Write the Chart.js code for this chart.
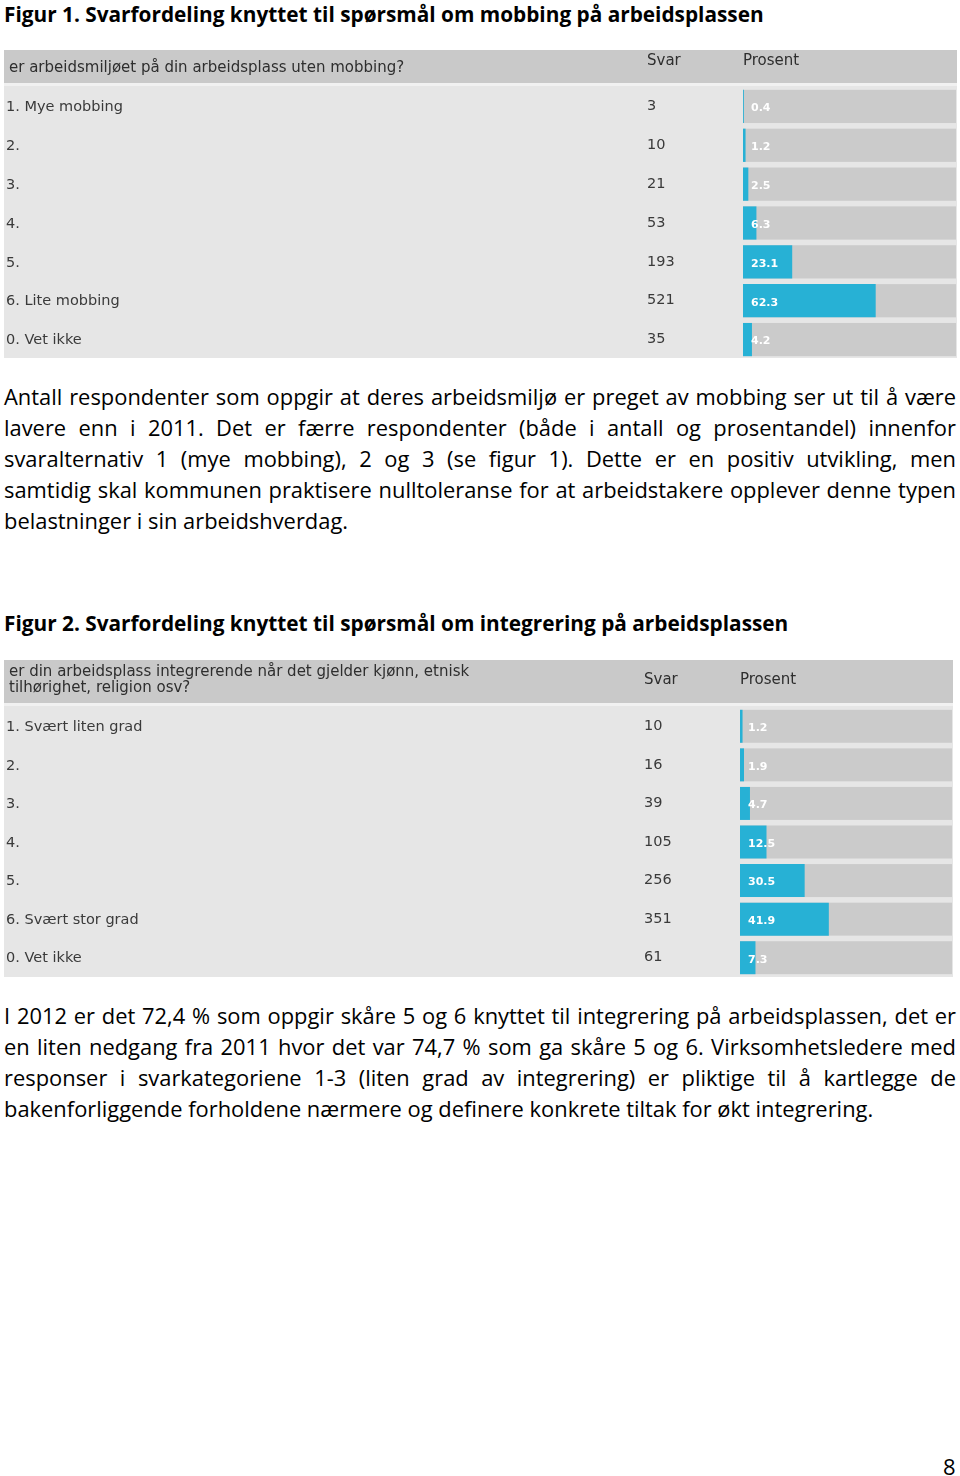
<!DOCTYPE html>
<html>
<head>
<meta charset="utf-8">
<script src="https://cdn.jsdelivr.net/npm/chart.js@4.4.1/dist/chart.umd.min.js"></script>
<style>
  html, body { margin: 0; padding: 0; background: #fff; }
  body { width: 960px; height: 1476px; position: relative; overflow: hidden; font-family: "Open Sans", Lato, sans-serif; color: #000; }
  .title { position: absolute; left: 4px; font-weight: bold; font-size: 20.8px; line-height: 30px; white-space: nowrap; }
  .para { position: absolute; left: 4px; width: 952px; font-size: 21.9px; line-height: 30.9px; }
  .para .l { display: block; text-align: justify; text-align-last: justify; }
  .para .last { display: block; text-align: left; }
  .fig { position: absolute; }
  .page { position: absolute; left: 943px; top: 1452px; font-size: 22px; line-height: 28px; }
</style>
</head>
<body>

<div class="title" style="top:-1px">Figur 1. Svarfordeling knyttet til spørsmål om mobbing på arbeidsplassen</div>
<div class="fig" style="left:4px; top:50px; width:953px; height:310px;"><canvas id="fig1"></canvas></div>

<div class="para" style="top:382px">
  <span class="l">Antall respondenter som oppgir at deres arbeidsmiljø er preget av mobbing ser ut til å være</span>
  <span class="l">lavere enn i 2011. Det er færre respondenter (både i antall og prosentandel) innenfor</span>
  <span class="l">svaralternativ 1 (mye mobbing), 2 og 3 (se figur 1). Dette er en positiv utvikling, men</span>
  <span class="l">samtidig skal kommunen praktisere nulltoleranse for at arbeidstakere opplever denne typen</span>
  <span class="last">belastninger i sin arbeidshverdag.</span>
</div>

<div class="title" style="top:608px">Figur 2. Svarfordeling knyttet til spørsmål om integrering på arbeidsplassen</div>
<div class="fig" style="left:4px; top:660px; width:949px; height:318px;"><canvas id="fig2"></canvas></div>

<div class="para" style="top:1001px">
  <span class="l">I 2012 er det 72,4 % som oppgir skåre 5 og 6 knyttet til integrering på arbeidsplassen, det er</span>
  <span class="l">en liten nedgang fra 2011 hvor det var 74,7 % som ga skåre 5 og 6. Virksomhetsledere med</span>
  <span class="l">responser i svarkategoriene 1-3 (liten grad av integrering) er pliktige til å kartlegge de</span>
  <span class="last">bakenforliggende forholdene nærmere og definere konkrete tiltak for økt integrering.</span>
</div>

<div class="page">8</div>

<script>
// Figur 1 - mobbing
const question1 = ['er arbeidsmiljøet på din arbeidsplass uten mobbing?'];
const labels1 = ['1. Mye mobbing', '2.', '3.', '4.', '5.', '6. Lite mobbing', '0. Vet ikke'];
const svar1 = [3, 10, 21, 53, 193, 521, 35];
const prosent1 = [0.4, 1.2, 2.5, 6.3, 23.1, 62.3, 4.2];

// Figur 2 - integrering
const question2 = ['er din arbeidsplass integrerende når det gjelder kjønn, etnisk', 'tilhørighet, religion osv?'];
const labels2 = ['1. Svært liten grad', '2.', '3.', '4.', '5.', '6. Svært stor grad', '0. Vet ikke'];
const svar2 = [10, 16, 39, 105, 256, 351, 61];
const prosent2 = [1.2, 1.9, 4.7, 12.5, 30.5, 41.9, 7.3];

const BLUE = '#27b1d5';
const TRACK = '#cbcbcb';
const TABLE_FONT = '"DejaVu Sans", Verdana, sans-serif';

// draws the survey table around the bars: header, row labels, counts, value text
const surveyTable = {
    id: 'surveyTable',
    beforeDraw(chart, args, o) {
        const { ctx, width } = chart;
        ctx.save();
        ctx.fillStyle = '#c9c9c9';
        ctx.fillRect(0, 0, width, o.headerH);
        ctx.fillStyle = '#f1f1f1';
        ctx.fillRect(0, o.headerH, width, 3);
        ctx.fillStyle = '#e6e6e6';
        ctx.fillRect(0, o.headerH + 3, width, o.bodyBottom - o.headerH - 3);

        ctx.fillStyle = '#2e2e2e';
        ctx.font = '15px ' + TABLE_FONT;
        ctx.textBaseline = 'middle';
        o.question.forEach((line, i) => ctx.fillText(line, 5, o.questionY[i]));
        ctx.fillText('Svar', o.countX, o.svarY);
        ctx.fillText('Prosent', chart.chartArea.left, o.svarY);
        ctx.restore();
    },
    beforeDatasetsDraw(chart) {
        // 100 % track behind every bar
        const { ctx } = chart;
        const x = chart.scales.x;
        const meta = chart.getDatasetMeta(0);
        ctx.save();
        ctx.fillStyle = TRACK;
        meta.data.forEach(bar => {
            const h = bar.height;
            ctx.fillRect(x.getPixelForValue(0), bar.y - h / 2, x.getPixelForValue(100) - x.getPixelForValue(0), h);
        });
        ctx.restore();
    },
    afterDatasetsDraw(chart, args, o) {
        const { ctx } = chart;
        const y = chart.scales.y;
        const left = chart.chartArea.left;
        ctx.save();
        ctx.textBaseline = 'middle';
        chart.data.labels.forEach((lab, i) => {
            const py = y.getPixelForValue(i);
            ctx.font = '14.5px ' + TABLE_FONT;
            ctx.fillStyle = '#3a3a3a';
            ctx.fillText(lab, 2, py + 1);
            ctx.fillText(String(o.counts[i]), o.countX, py);
            ctx.font = 'bold 11px ' + TABLE_FONT;
            ctx.fillStyle = '#ffffff';
            ctx.fillText(String(chart.data.datasets[0].data[i]), left + 8, py + 2);
        });
        ctx.restore();
    }
};

function makeTable(id, labels, values, counts, tableOpts, padTop) {
    return new Chart(document.getElementById(id), {
        type: 'bar',
        data: {
            labels: labels,
            datasets: [{
                data: values,
                backgroundColor: BLUE,
                borderWidth: 0,
                barPercentage: 1,
                categoryPercentage: 0.855
            }]
        },
        options: {
            indexAxis: 'y',
            responsive: true,
            maintainAspectRatio: false,
            animation: false,
            events: [],
            layout: { padding: { left: tableOpts.barLeft, right: 1, top: padTop, bottom: tableOpts.padBottom } },
            scales: {
                x: { display: false, min: 0, max: 100 },
                y: { display: false }
            },
            plugins: {
                legend: { display: false },
                tooltip: { enabled: false },
                surveyTable: Object.assign({ counts: counts }, tableOpts)
            }
        },
        plugins: [surveyTable]
    });
}

makeTable('fig1', labels1, prosent1, svar1, {
    question: question1, questionY: [18], svarY: 11,
    headerH: 33, bodyBottom: 308, countX: 643, barLeft: 739, padBottom: 1
}, 37);

makeTable('fig2', labels2, prosent2, svar2, {
    question: question2, questionY: [12, 28], svarY: 20,
    headerH: 43, bodyBottom: 317, countX: 640, barLeft: 736, padBottom: 1
}, 47);
</script>
</body>
</html>
